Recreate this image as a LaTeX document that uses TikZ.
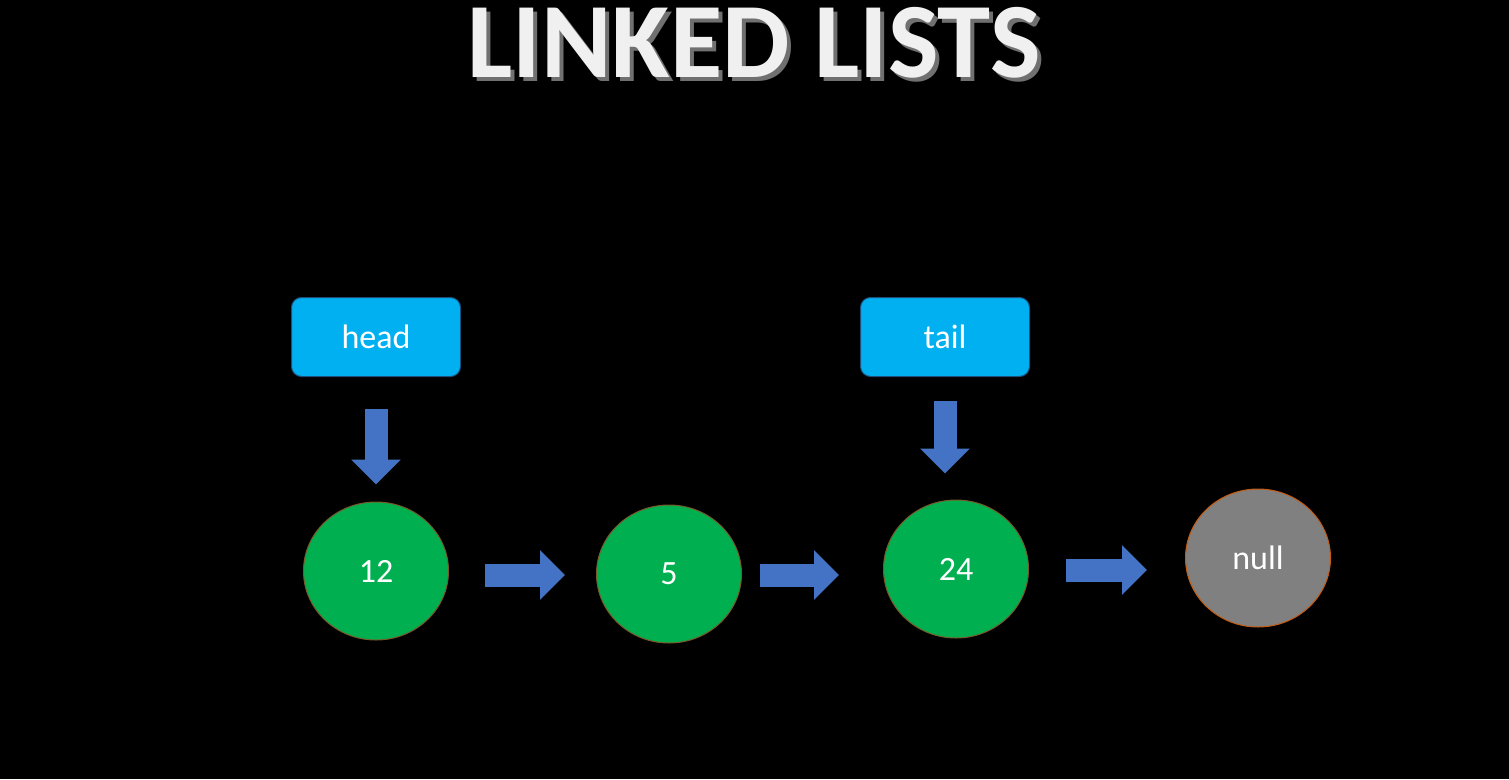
\documentclass[tikz,border=0pt]{standalone}
\usepackage{fontspec}
\setmainfont{Carlito}
\usepackage{tikz}
\definecolor{ptrblue}{RGB}{0,176,240}
\definecolor{ptrborder}{RGB}{31,78,121}
\definecolor{nodegreen}{RGB}{0,176,80}
\definecolor{nodeborder}{RGB}{120,90,40}
\definecolor{nullgray}{RGB}{128,128,128}
\definecolor{nullborder}{RGB}{197,90,17}
\definecolor{arrowblue}{RGB}{68,114,196}
\definecolor{titlegray}{RGB}{112,112,112}
\usetikzlibrary{positioning}
\usetikzlibrary{shapes.geometric}
\usetikzlibrary{arrows.meta}
\begin{document}
\begin{tikzpicture}[x=1pt,y=-1pt,
  ptrBox/.style={rectangle,draw=ptrborder,fill=ptrblue,rounded corners=10pt,line width=1pt,minimum width=169pt,minimum height=79pt,text=white,font=\fontsize{34}{40}\selectfont},
  listNode/.style={ellipse,draw=nodeborder,fill=nodegreen,line width=1pt,minimum width=145pt,minimum height=138pt,inner sep=0pt,text=white,font=\fontsize{34}{40}\selectfont},
  nullNode/.style={listNode,draw=nullborder,fill=nullgray},
  blockArrow/.style={draw=arrowblue,line width=23pt,-{Triangle[width=48pt,length=25pt]}},
  titleText/.style={font=\fontsize{107}{112}\selectfont\bfseries,anchor=base,inner sep=0pt}]
  \useasboundingbox[fill=black] (0,0) rectangle (1509,779);
  % title with shadow
  \node[titleText,text=titlegray] (shadow) at (758,81) {LINKED LISTS};
  \node[titleText,text=white!88!gray] (title) at (754,77) {LINKED LISTS};
  % list nodes
  \node[listNode] (n12) at (376,571) {12};
  \node[listNode] (n5) at (669,574) {5};
  \node[listNode] (n24) at (956,569) {24};
  \node[nullNode] (null) at (1258,558) {null};
  % pointers
  \node[ptrBox] (head) at (376,337) {head};
  \node[ptrBox] (tail) at (945,337) {tail};
  \draw[blockArrow,shorten <=32pt,shorten >=17pt] (head.south) -- (n12.north);
  \draw[blockArrow,shorten <=24pt,shorten >=26pt] (tail.south) -- (tail.south |- n24.north);
  \draw[blockArrow,shorten <=36pt,shorten >=31pt] ([yshift=-4pt]n12.east) -- ([yshift=-1pt]n5.west);
  \draw[blockArrow,shorten <=18pt,shorten >=44pt] ([yshift=-1pt]n5.east) -- ([yshift=-1pt]n5.east -| n24.west);
  \draw[blockArrow,shorten <=37pt,shorten >=38pt] ([yshift=-1pt]n24.east) -- ([yshift=-1pt]n24.east -| null.west);
\end{tikzpicture}
\end{document}
